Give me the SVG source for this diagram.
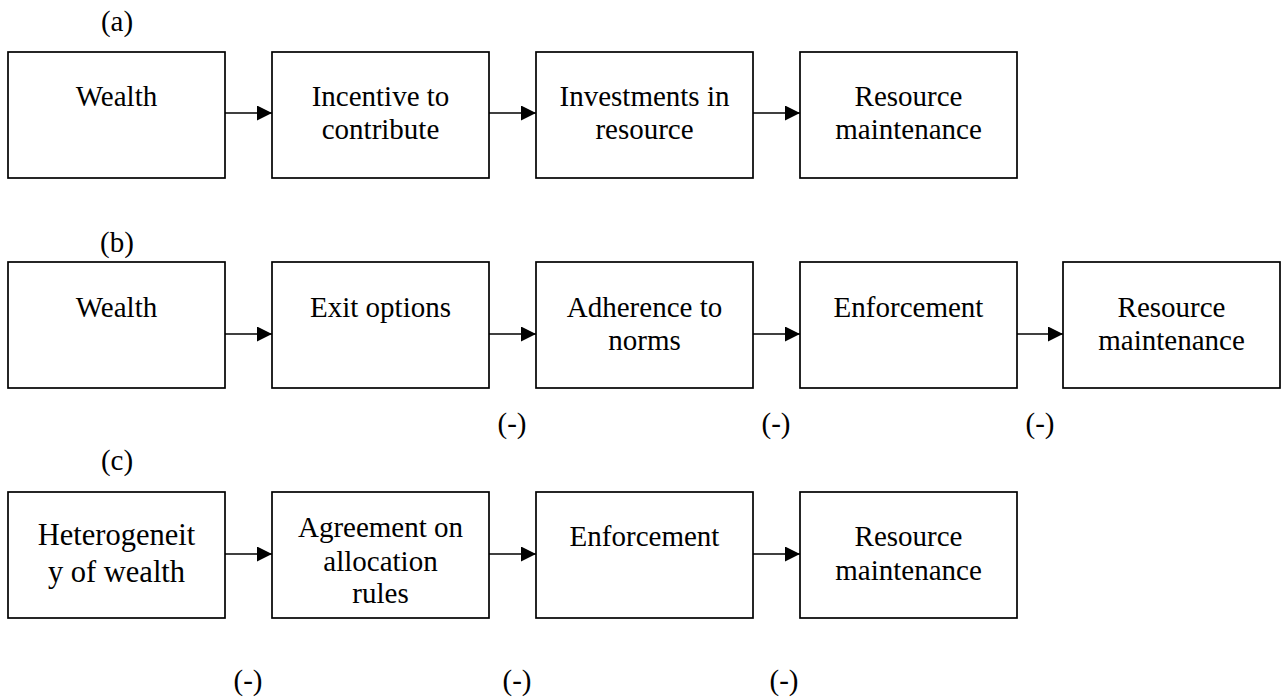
<svg xmlns="http://www.w3.org/2000/svg" width="1281" height="700" viewBox="0 0 1281 700">
<style>
  .box{fill:#fff;stroke:#000;stroke-width:1.7}
  .t{font-family:"Liberation Serif","Times New Roman",serif;font-size:29px;fill:#000;text-anchor:middle}
  .c{stroke:#000;stroke-width:1.6;fill:none;marker-end:url(#ah)}
</style>
<defs>
  <marker id="ah" markerUnits="userSpaceOnUse" markerWidth="16" markerHeight="16" refX="15" refY="7.5" orient="auto">
    <path d="M0,0 L15,7.5 L0,15 z" fill="#000"/>
  </marker>
</defs>
<rect width="1281" height="700" fill="#fff"/>

<text class="t" x="117" y="31">(a)</text>
<text class="t" x="117" y="252">(b)</text>
<text class="t" x="117" y="470">(c)</text>

<g id="connectors">
  <line class="c" x1="225" y1="113" x2="272" y2="113"/>
  <line class="c" x1="489" y1="113" x2="536" y2="113"/>
  <line class="c" x1="753" y1="113" x2="800" y2="113"/>
  <line class="c" x1="225" y1="334" x2="272" y2="334"/>
  <line class="c" x1="489" y1="334" x2="536" y2="334"/>
  <line class="c" x1="753" y1="334" x2="800" y2="334"/>
  <line class="c" x1="1017" y1="334" x2="1063" y2="334"/>
  <line class="c" x1="225" y1="554" x2="272" y2="554"/>
  <line class="c" x1="489" y1="554" x2="536" y2="554"/>
  <line class="c" x1="753" y1="554" x2="800" y2="554"/>
</g>

<g id="a1"><rect class="box" x="8" y="52" width="217" height="126"/>
  <text class="t" x="116.5" y="106">Wealth</text></g>
<g id="a2"><rect class="box" x="272" y="52" width="217" height="126"/>
  <text class="t" x="380.5" y="106">Incentive to</text>
  <text class="t" x="380.5" y="139">contribute</text></g>
<g id="a3"><rect class="box" x="536" y="52" width="217" height="126"/>
  <text class="t" x="644.5" y="106">Investments in</text>
  <text class="t" x="644.5" y="139">resource</text></g>
<g id="a4"><rect class="box" x="800" y="52" width="217" height="126"/>
  <text class="t" x="908.5" y="106">Resource</text>
  <text class="t" x="908.5" y="139">maintenance</text></g>

<g id="b1"><rect class="box" x="8" y="262" width="217" height="126"/>
  <text class="t" x="116.5" y="317">Wealth</text></g>
<g id="b2"><rect class="box" x="272" y="262" width="217" height="126"/>
  <text class="t" x="380.5" y="317">Exit options</text></g>
<g id="b3"><rect class="box" x="536" y="262" width="217" height="126"/>
  <text class="t" x="644.5" y="317">Adherence to</text>
  <text class="t" x="644.5" y="350">norms</text></g>
<g id="b4"><rect class="box" x="800" y="262" width="217" height="126"/>
  <text class="t" x="908.5" y="317">Enforcement</text></g>
<g id="b5"><rect class="box" x="1063" y="262" width="217" height="126"/>
  <text class="t" x="1171.5" y="317">Resource</text>
  <text class="t" x="1171.5" y="350">maintenance</text></g>
<g id="b-signs">
  <text class="t" x="512" y="433">(-)</text>
  <text class="t" x="776" y="433">(-)</text>
  <text class="t" x="1040" y="433">(-)</text>
</g>

<g id="c1"><rect class="box" x="8" y="492" width="217" height="126"/>
  <text class="t" x="116.5" y="545" style="font-size:30.5px">Heterogeneit</text>
  <text class="t" x="116.5" y="581.5" style="font-size:30.5px">y of wealth</text></g>
<g id="c2"><rect class="box" x="272" y="492" width="217" height="126"/>
  <text class="t" x="380.5" y="537">Agreement on</text>
  <text class="t" x="380.5" y="571">allocation</text>
  <text class="t" x="380.5" y="603">rules</text></g>
<g id="c3"><rect class="box" x="536" y="492" width="217" height="126"/>
  <text class="t" x="644.5" y="546">Enforcement</text></g>
<g id="c4"><rect class="box" x="800" y="492" width="217" height="126"/>
  <text class="t" x="908.5" y="546">Resource</text>
  <text class="t" x="908.5" y="580">maintenance</text></g>
<g id="c-signs">
  <text class="t" x="248" y="690">(-)</text>
  <text class="t" x="517" y="690">(-)</text>
  <text class="t" x="784" y="690">(-)</text>
</g>
</svg>
